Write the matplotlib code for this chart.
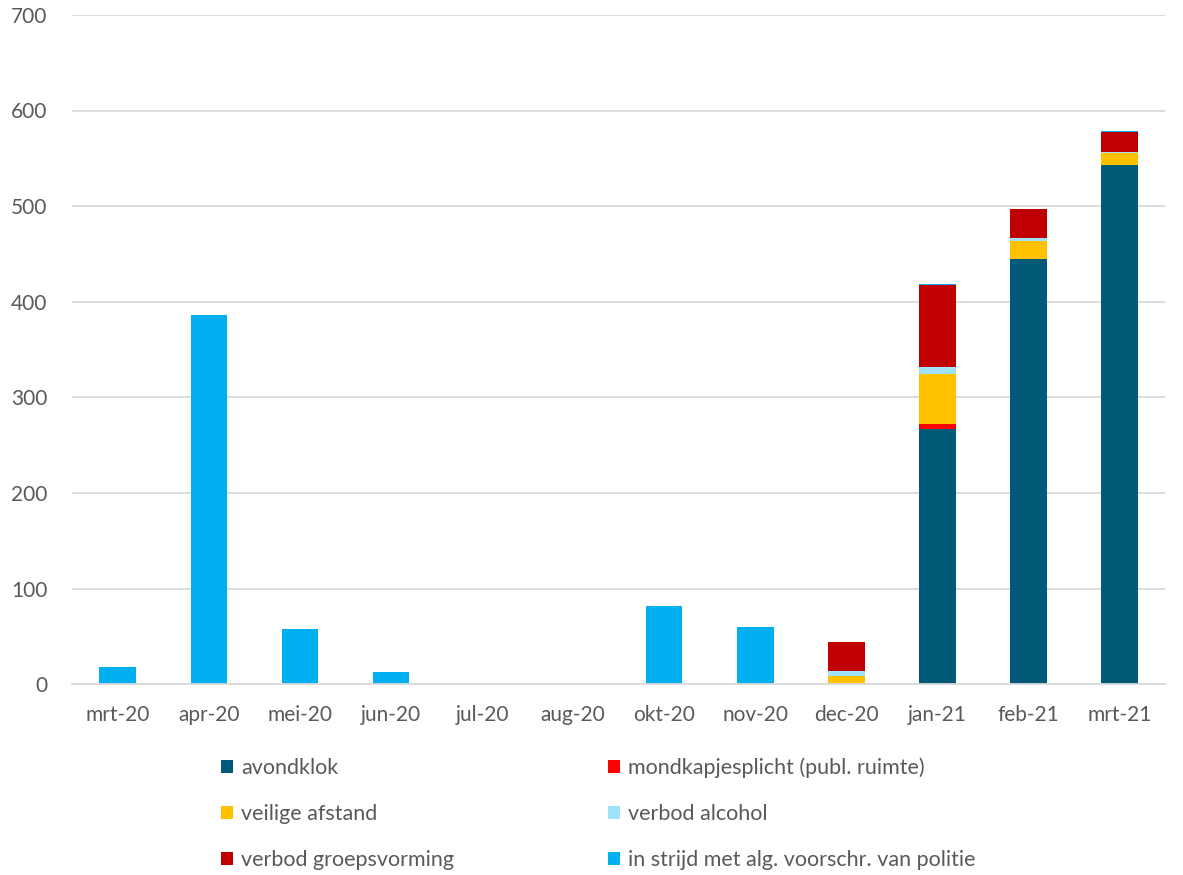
import matplotlib
matplotlib.use("Agg")
import matplotlib.pyplot as plt
import numpy as np

categories = ["mrt-20", "apr-20", "mei-20", "jun-20", "jul-20", "aug-20",
              "okt-20", "nov-20", "dec-20", "jan-21", "feb-21", "mrt-21"]
avondklok = [0, 0, 0, 0, 0, 0, 0, 0, 0, 267, 445, 543]
mondkapjesplicht = [0, 0, 0, 0, 0, 0, 0, 0, 0, 5, 0, 0]
veilige_afstand = [0, 0, 0, 0, 0, 0, 0, 0, 9, 52, 19, 13]
verbod_alcohol = [0, 0, 0, 0, 0, 0, 0, 0, 5, 8, 3, 1]
verbod_groepsvorming = [0, 0, 0, 0, 0, 0, 0, 0, 30, 85, 30, 21]
in_strijd = [18, 386, 58, 13, 0, 0, 82, 60, 0, 1.5, 0, 1]

series = [
    ("avondklok", avondklok, "#005A78"),
    ("mondkapjesplicht (publ. ruimte)", mondkapjesplicht, "#FF0000"),
    ("veilige afstand", veilige_afstand, "#FFC000"),
    ("verbod alcohol", verbod_alcohol, "#A0E2FA"),
    ("verbod groepsvorming", verbod_groepsvorming, "#C00000"),
    ("in strijd met alg. voorschr. van politie", in_strijd, "#00B0F0"),
]

plt.rcParams["font.family"] = ["Lato", "DejaVu Sans"]

fig = plt.figure(figsize=(11.83, 8.75), dpi=100)
ax = fig.add_axes([0.061, 0.218, 0.924, 0.765])

x = np.arange(len(categories))
bottom = np.zeros(len(categories))
handles = {}
for name, vals, color in series:
    v = np.array(vals, dtype=float)
    b = ax.bar(x, v, 0.4, bottom=bottom, color=color, label=name, zorder=3)
    handles[name] = b
    bottom += v

ax.set_xlim(-0.5, len(categories) - 0.5)
ax.set_ylim(0, 700)
ax.set_yticks(range(0, 701, 100))
ax.set_xticks(x)
ax.set_xticklabels(categories)
ax.tick_params(axis="both", length=0, labelsize=15, colors="#595959")
ax.tick_params(axis="x", pad=15)
ax.tick_params(axis="y", pad=18)
ax.grid(axis="y", color="#D9D9D9", linewidth=1.3, zorder=0)
for s in ["top", "right", "left"]:
    ax.spines[s].set_visible(False)
ax.spines["bottom"].set_color("#D9D9D9")
ax.spines["bottom"].set_linewidth(1.3)
ax.spines["bottom"].set_zorder(4)

order = [0, 2, 4, 1, 3, 5]
hs = [handles[series[i][0]] for i in order]
ls = [series[i][0] for i in order]
leg = fig.legend(hs, ls, ncol=2, loc="upper left", bbox_to_anchor=(0.187, 0.134),
                 frameon=False, fontsize=15.5, handlelength=0.56, handleheight=0.56,
                 handletextpad=0.37, columnspacing=7.15, labelspacing=1.2,
                 borderaxespad=0, borderpad=0)
for t in leg.get_texts():
    t.set_color("#595959")

fig.savefig("out.png", dpi=100)
